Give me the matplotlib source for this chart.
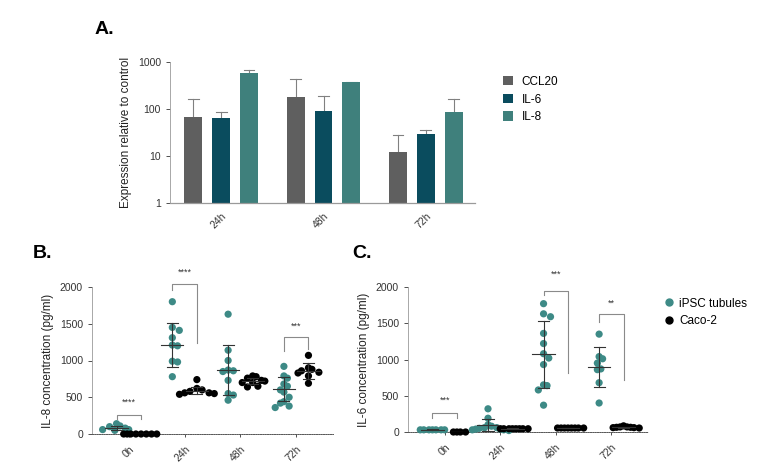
import matplotlib
matplotlib.use("Agg")
import matplotlib.pyplot as plt
import numpy as np
from matplotlib.patches import Patch
from matplotlib.lines import Line2D

plt.rcParams['font.family'] = ['Liberation Sans', 'DejaVu Sans']

# ---------------- Panel A data ----------------
a_groups = ["24h", "48h", "72h"]
a_series = ["CCL20", "IL-6", "IL-8"]
a_ccl20 = [68, 180, 12]
a_ccl20_err = [160, 430, 28]
a_il6 = [63, 92, 30]
a_il6_err = [88, 185, 36]
a_il8 = [590, 370, 85]
a_il8_err = [680, 380, 165]

# ---------------- Panel B data (IL-8, pg/ml) ----------------
time_labels = ["0h", "24h", "48h", "72h"]
b_ipsc = [
    [110, 140, 80, 60, 50, 60, 100],
    [1800, 1450, 1410, 1310, 1200, 1210, 980, 990, 780],
    [1630, 1140, 1000, 860, 850, 870, 730, 550, 530, 460],
    [920, 790, 760, 680, 650, 600, 570, 500, 440, 380, 360, 420],
]
b_caco = [
    [0, 0, 0, 0, 0, 0, 0, 0],
    [740, 620, 600, 580, 560, 550, 560, 540],
    [790, 780, 760, 730, 720, 700, 700, 650, 640],
    [1070, 900, 880, 860, 840, 830, 790, 690],
]
b_ipsc_mean = [85, 1210, 870, 610]
b_ipsc_sd = [30, 300, 340, 160]
b_caco_mean = [0, 590, 720, 855]
b_caco_sd = [0, 50, 45, 105]
b_sig = ["****", "****", None, "***"]

# ---------------- Panel C data (IL-6, pg/ml) ----------------
c_ipsc = [
    [30, 30, 30, 30, 30, 30, 30],
    [320, 190, 100, 80, 60, 50, 40, 30, 20, 40, 60, 30],
    [1770, 1630, 1590, 1360, 1220, 1080, 1020, 930, 650, 640, 580, 370],
    [1350, 1040, 1010, 950, 860, 870, 680, 400],
]
c_caco = [
    [0, 0, 0, 0],
    [45, 45, 45, 45, 45, 45, 45, 45],
    [55, 55, 55, 55, 55, 55, 55, 55],
    [85, 70, 65, 60, 55, 60, 70, 65],
]
c_ipsc_mean = [30, 100, 1070, 900]
c_ipsc_sd = [5, 80, 460, 275]
c_caco_mean = [0, 45, 55, 65]
c_caco_sd = [0, 5, 5, 10]
c_sig = ["***", None, "***", "**"]

col_ccl20 = "#5f5f5f"
col_il6 = "#0a4c5e"
col_il8 = "#3f807c"
col_teal = "#3d8a86"
col_black = "#000000"

fig = plt.figure(figsize=(7.6, 4.66), dpi=100)

# ================= Panel A =================
axA = fig.add_axes([170/760, 1-203/466, 305/760, 141/466])
x = np.arange(len(a_groups))
w = 0.175
off = 0.272
for i, (vals, errs, col) in enumerate([(a_ccl20, a_ccl20_err, col_ccl20),
                                      (a_il6, a_il6_err, col_il6),
                                      (a_il8, a_il8_err, col_il8)]):
    xs = x + (i - 1) * off
    axA.bar(xs, vals, width=w, color=col, bottom=0, zorder=2)
    for xi, v, e in zip(xs, vals, errs):
        axA.plot([xi, xi], [v, e], color="#808080", lw=0.8, zorder=1)
        axA.plot([xi - w*0.3, xi + w*0.3], [e, e], color="#808080", lw=0.8, zorder=1)
axA.set_yscale("log")
axA.set_ylim(1, 1000)
axA.set_xlim(-0.5, 2.48)
axA.set_yticks([1, 10, 100, 1000])
axA.set_yticklabels(["1", "10", "100", "1000"])
axA.yaxis.set_minor_locator(matplotlib.ticker.NullLocator())
axA.set_xticks(x)
axA.set_xticklabels(a_groups, rotation=45, ha="right", rotation_mode="anchor")
axA.tick_params(axis="both", labelsize=7.5, colors="#333333", length=3, width=0.6)
axA.tick_params(axis="x", length=0, pad=6)
for s in ["top", "right"]:
    axA.spines[s].set_visible(False)
axA.spines["left"].set_color("#9a9a9a")
axA.spines["left"].set_linewidth(0.6)
axA.spines["bottom"].set_color("#9a9a9a")
axA.spines["bottom"].set_linewidth(0.9)
axA.set_ylabel("Expression relative to control", fontsize=8.5, color="#222222", labelpad=4)

handles = [Patch(facecolor=col_ccl20), Patch(facecolor=col_il6), Patch(facecolor=col_il8)]
fig.legend(handles, a_series, loc="upper left", bbox_to_anchor=(492/760, 1-65/466),
           frameon=False, fontsize=8.5, handlelength=0.9, handleheight=0.9,
           handletextpad=0.7, labelspacing=0.5)

fig.text(95/760, 1-30/466, "A.", fontsize=14, fontweight="bold", va="center", ha="left")
fig.text(33/760, 1-253/466, "B.", fontsize=14, fontweight="bold", va="center", ha="left")
fig.text(352/760, 1-253/466, "C.", fontsize=14, fontweight="bold", va="center", ha="left")


def swarm(ax, xc, vals, diam_px, row_dx=0.6, mind=1.1, step=0.3):
    """Deterministic beeswarm offsets in display space."""
    disp = [ax.transData.transform((xc, v)) for v in vals]
    placed = []
    res = [None] * len(vals)
    order = np.argsort(vals, kind="stable")[::-1]
    cands = [0]
    for j in range(1, 80):
        cands += [j, -j]
    for idx in order:
        px, py = disp[idx]
        for c in cands:
            nx = px + c * diam_px * step
            ok = True
            for qx, qy in placed:
                dy = abs(qy - py)
                dx = abs(nx - qx)
                if dy < 0.5 * diam_px:
                    if dx < row_dx * diam_px:
                        ok = False
                        break
                elif dx * dx + dy * dy < (mind * diam_px) ** 2:
                    ok = False
                    break
            if ok:
                placed.append((nx, py))
                res[idx] = ax.transData.inverted().transform((nx, py))[0]
                break
    return res


def dot_panel(rect, ipsc, caco, im, isd, cm, csd, sig, ylabel, sigpos):
    ax = fig.add_axes(rect)
    ax.set_xlim(-0.66, 3.66)
    ax.set_ylim(0, 2000)
    ax.set_yticks([0, 500, 1000, 1500, 2000])
    ax.set_xticks(range(4))
    ax.set_xticklabels(time_labels, rotation=45, ha="right", rotation_mode="anchor")
    ax.tick_params(axis="both", labelsize=7.5, colors="#333333", length=3, width=0.6)
    ax.tick_params(axis="x", length=2, pad=5)
    for s in ["top", "right"]:
        ax.spines[s].set_visible(False)
    ax.spines["left"].set_color("#9a9a9a")
    ax.spines["left"].set_linewidth(0.6)
    ax.spines["bottom"].set_color("#555555")
    ax.spines["bottom"].set_linewidth(0.7)
    ax.spines["bottom"].set_linestyle((0, (1.2, 1.2)))
    ax.set_ylabel(ylabel, fontsize=8.5, color="#222222", labelpad=4)
    fig.canvas.draw()
    dpx = 5.8
    for g in range(4):
        for vals, mean, sd, col, o in [(ipsc[g], im[g], isd[g], col_teal, -0.22),
                                       (caco[g], cm[g], csd[g], col_black, 0.22)]:
            xc = g + o
            xs = swarm(ax, xc, vals, dpx)
            ax.scatter(xs, vals, s=27, color=col, edgecolors="none", zorder=3, clip_on=False)
            ax.plot([xc - 0.2, xc + 0.2], [mean, mean], color="#333333", lw=0.8, zorder=4)
            ax.plot([xc, xc], [mean - sd, mean + sd], color="#333333", lw=0.8, zorder=4)
            for yy in (mean - sd, mean + sd):
                ax.plot([xc - 0.1, xc + 0.1], [yy, yy], color="#333333", lw=0.8, zorder=4)
        if sig[g]:
            top, ldrop, rdrop, ty = sigpos[g]
            xl, xr = g - 0.22, g + 0.22
            ax.plot([xl, xl, xr, xr], [ldrop, top, top, rdrop], color="#8a8a8a", lw=0.8, zorder=2,
                    clip_on=False)
            ax.text(g, ty, sig[g], fontsize=6.5, ha="center", va="center", color="#333333")
    return ax


b_sigpos = {0: (260, 200, 200, 430), 1: (2040, 1960, 1240, 2200), 3: (1320, 1130, 1150, 1460)}
c_sigpos = {0: (262, 190, 190, 440), 2: (1950, 1890, 810, 2170), 3: (1630, 1520, 720, 1780)}

axB = dot_panel([92/760, 1-434/466, 241/760, 147/466], b_ipsc, b_caco, b_ipsc_mean, b_ipsc_sd,
                b_caco_mean, b_caco_sd, b_sig, "IL-8 concentration (pg/ml)", b_sigpos)
axC = dot_panel([408/760, 1-432/466, 240/760, 145/466], c_ipsc, c_caco, c_ipsc_mean, c_ipsc_sd,
                c_caco_mean, c_caco_sd, c_sig, "IL-6 concentration (pg/ml)", c_sigpos)

leg_handles = [Line2D([], [], marker="o", ls="none", color=col_teal, markersize=5),
               Line2D([], [], marker="o", ls="none", color=col_black, markersize=5)]
fig.legend(leg_handles, ["iPSC tubules", "Caco-2"], loc="upper left",
           bbox_to_anchor=(652/760, 1-287/466), frameon=False, fontsize=8.5,
           handletextpad=0.4, labelspacing=0.45, handlelength=1.0)

fig.savefig("out.png", dpi=100)
